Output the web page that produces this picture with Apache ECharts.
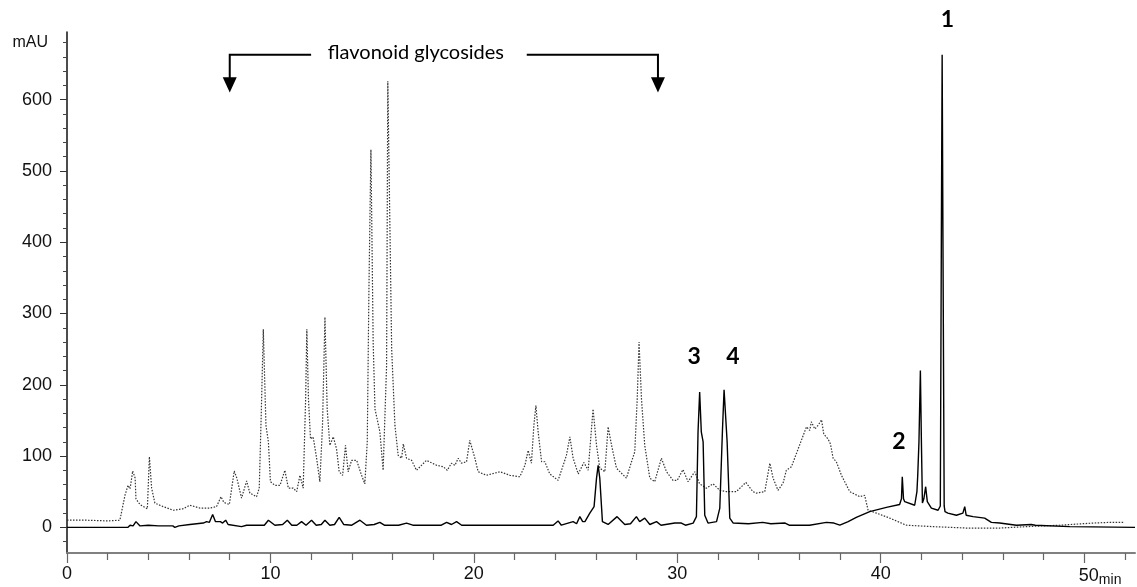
<!DOCTYPE html>
<html>
<head>
<meta charset="utf-8">
<title>chromatogram</title>
<script src="https://cdn.jsdelivr.net/npm/echarts/dist/echarts.min.js"></script>
<style>
  html, body { margin: 0; padding: 0; background: #fff; }
  #main { width: 1137px; height: 587px; }
</style>
</head>
<body>
<div id="main"></div>
<script>
// dotted trace (flavonoid glycosides), [min, mAU]
var dottedTrace = [[0,10],[1,10],[2,9],[2.6,10],[2.85,45],[3.0,59],[3.1,54],[3.23,79],[3.35,69],[3.39,40],[3.59,32],[3.95,26],[4.05,99],[4.16,55],[4.32,34],[4.73,29],[5.22,24],[5.7,26],[6.04,31],[6.54,27],[7.0,27],[7.35,29],[7.57,43],[7.71,35],[7.98,32],[8.22,79],[8.35,69],[8.58,41],[8.83,65],[8.99,48],[9.32,43],[9.45,55],[9.55,160],[9.65,278],[9.78,143],[9.9,120],[10.0,64],[10.22,59],[10.47,59],[10.71,80],[10.88,55],[11.12,55],[11.29,50],[11.45,73],[11.61,55],[11.73,180],[11.79,278],[11.87,180],[11.97,124],[12.1,127],[12.27,97],[12.43,64],[12.56,143],[12.68,295],[12.79,166],[12.92,115],[13.09,127],[13.25,110],[13.38,78],[13.55,73],[13.69,115],[13.82,78],[13.99,94],[14.24,94],[14.48,73],[14.64,61],[14.76,120],[14.84,330],[14.94,530],[15.05,260],[15.14,166],[15.38,134],[15.54,80],[15.71,227],[15.77,626],[15.96,250],[16.12,143],[16.28,101],[16.45,97],[16.53,117],[16.69,97],[16.94,94],[17.18,80],[17.67,94],[18.17,87],[18.5,85],[18.69,80],[18.9,90],[19.07,87],[19.23,97],[19.39,90],[19.64,92],[19.8,122],[20.05,97],[20.21,78],[20.62,73],[21.28,78],[21.77,73],[22.26,71],[22.51,87],[22.67,108],[22.83,90],[22.95,143],[23.05,171],[23.16,134],[23.33,92],[23.49,92],[23.73,75],[24.14,66],[24.39,87],[24.55,101],[24.72,127],[24.88,97],[25.13,75],[25.41,91],[25.62,80],[25.86,166],[26.03,115],[26.19,83],[26.44,78],[26.6,141],[26.77,115],[27.01,83],[27.5,69],[27.75,92],[27.91,106],[28.03,180],[28.12,260],[28.24,180],[28.4,115],[28.65,69],[28.89,64],[29.22,97],[29.47,78],[29.79,66],[30.0,66],[30.28,81],[30.53,64],[30.86,78],[31.1,61],[31.43,55],[31.76,61],[32.09,52],[32.42,50],[32.9,50],[33.37,63],[33.72,50],[33.89,48],[34.3,50],[34.55,90],[34.71,69],[34.95,52],[35.2,62],[35.36,80],[35.61,85],[36.02,116],[36.35,141],[36.51,136],[36.59,148],[36.76,138],[36.92,143],[37.09,151],[37.2,131],[37.41,124],[37.53,117],[37.66,97],[37.82,92],[38.07,73],[38.48,50],[38.97,43],[39.21,45],[39.38,24],[39.79,20],[40.44,13],[41.26,3],[42.57,1],[44.21,-1],[45.85,-1],[47.16,1],[48.8,3],[50.43,6],[51.25,7],[51.99,7]];

// solid trace, [min, mAU]
var solidTrace = [[0,0],[3.0,0],[3.1,3],[3.25,2],[3.39,8],[3.59,2],[4.0,3],[4.5,2],[5.2,2],[5.3,0],[5.5,2],[6.04,4],[6.7,6],[6.86,8],[7.0,7],[7.16,18],[7.3,8],[7.54,8],[7.65,6],[7.8,10],[7.92,4],[8.58,1],[8.83,3],[9.48,3],[9.7,3],[9.9,10],[10.22,3],[10.6,4],[10.83,10],[11.05,3],[11.3,3],[11.53,8],[11.75,3],[12.02,10],[12.25,3],[12.5,4],[12.68,10],[12.92,3],[13.15,4],[13.38,14],[13.6,4],[14.0,3],[14.4,10],[14.72,3],[15.1,4],[15.38,7],[15.6,3],[16.3,3],[16.69,6],[17.0,3],[18.4,3],[18.66,7],[18.9,4],[19.15,8],[19.4,3],[20.5,3],[21.5,3],[22.5,3],[23.9,3],[24.14,9],[24.3,3],[24.88,8],[25.05,5],[25.21,15],[25.35,8],[25.46,8],[25.7,20],[25.91,29],[26.03,69],[26.11,87],[26.19,69],[26.32,8],[26.6,4],[27.04,15],[27.42,4],[27.7,5],[27.99,15],[28.15,8],[28.4,13],[28.65,4],[28.98,8],[29.2,3],[29.88,6],[30.2,6],[30.4,3],[30.78,6],[30.94,15],[31.02,134],[31.1,190],[31.18,134],[31.27,120],[31.35,17],[31.51,6],[31.93,8],[32.09,27],[32.22,136],[32.3,193],[32.45,120],[32.58,13],[32.75,6],[33.5,5],[34.2,7],[34.6,5],[35.3,6],[35.5,3],[36.0,3],[36.5,3],[37.33,7],[37.7,6],[37.99,3],[38.4,8],[38.8,14],[39.46,22],[40.28,28],[40.93,32],[41.02,40],[41.06,71],[41.12,40],[41.18,36],[41.67,31],[41.78,50],[41.82,73],[41.88,120],[41.95,220],[42.0,120],[42.05,34],[42.12,40],[42.21,57],[42.29,36],[42.49,27],[42.82,24],[42.93,30],[42.98,400],[43.02,663],[43.06,400],[43.12,30],[43.16,22],[43.3,20],[43.72,17],[44.04,20],[44.13,29],[44.2,17],[44.54,15],[45.11,13],[45.44,7],[45.85,6],[46.67,3],[47.4,4],[47.49,5],[47.6,3],[49.29,1],[52.5,0]];

var xTicks = [0, 10, 20, 30, 40, 50];
var xMinorTicks = [2, 4, 6, 8, 12, 14, 16, 18, 22, 24, 26, 28, 32, 34, 36, 38, 42, 44, 46, 48, 52];
var yTicks = [0, 100, 200, 300, 400, 500, 600];
var yMinorTicks = [-20, 20, 40, 60, 80, 120, 140, 160, 180, 220, 240, 260, 280, 320, 340, 360, 380,
    420, 440, 460, 480, 520, 540, 560, 580, 620, 640, 660, 680];

// peak numbers: [label, min, mAU]
var peakLabels = [['1', 43.28, 713], ['2', 40.9, 120], ['3', 30.83, 240], ['4', 32.74, 240]];

var chartDom = document.getElementById('main');
var myChart = echarts.init(chartDom);
var option;

var baseFont = 'Arial, "Liberation Sans", sans-serif';

option = {
    animation: false,
    grid: { left: 67, right: 2, top: 32, bottom: 32, containLabel: false },
    xAxis: [{
        type: 'value',
        min: 0,
        max: 52.5,
        axisLine: { show: true, onZero: false, lineStyle: { color: '#808080', width: 2 } },
        axisTick: { show: true, customValues: xTicks, length: 10, lineStyle: { color: '#666', width: 1.2 } },
        axisLabel: {
            customValues: xTicks,
            margin: 12,
            color: '#111',
            fontFamily: baseFont,
            fontSize: 18,
            formatter: function (v) {
                if (v === 50) return '{p|}{a|50}{b|min}';
                return '{a|' + v + '}';
            },
            rich: {
                p: { width: 32 },
                a: { fontFamily: baseFont, fontSize: 18, color: '#111' },
                b: { fontFamily: baseFont, fontSize: 14, color: '#111', padding: [8, 0, 0, 0] }
            }
        },
        splitLine: { show: false }
    }, {
        type: 'value',
        min: 0,
        max: 52.5,
        position: 'bottom',
        axisLine: { show: false, onZero: false },
        axisTick: { show: true, customValues: xMinorTicks, length: 7, lineStyle: { color: '#666', width: 1.2 } },
        axisLabel: { show: false },
        splitLine: { show: false }
    }],
    yAxis: [{
        type: 'value',
        min: -36,
        max: 695,
        axisLine: { show: true, onZero: false, lineStyle: { color: '#111', width: 1.5 } },
        axisTick: { show: true, customValues: yTicks, length: 7, lineStyle: { color: '#333' } },
        axisLabel: {
            customValues: yTicks.concat([680]),
            margin: 15,
            color: '#111',
            formatter: function (v) {
                if (v === 680) return '{u|mAU}';
                return '{n|' + v + '}';
            },
            rich: {
                n: { fontFamily: baseFont, fontSize: 18, color: '#111' },
                u: { fontFamily: baseFont, fontSize: 16, color: '#111', padding: [0, 4, 0, 0] }
            }
        },
        splitLine: { show: false }
    }, {
        type: 'value',
        min: -36,
        max: 695,
        position: 'left',
        axisLine: { show: false, onZero: false },
        axisTick: { show: true, customValues: yMinorTicks, length: 4, lineStyle: { color: '#444' } },
        axisLabel: { show: false },
        splitLine: { show: false }
    }],
    series: [{
        name: 'glycosides',
        type: 'line',
        data: dottedTrace,
        showSymbol: false,
        symbol: 'none',
        lineStyle: { color: '#333', width: 1.2, type: [1.5, 1.5] },
        z: 2
    }, {
        name: 'main',
        type: 'line',
        data: solidTrace,
        showSymbol: false,
        symbol: 'none',
        lineStyle: { color: '#000', width: 1.4 },
        z: 3
    }]
};

option && myChart.setOption(option);

// 注释：峰号和箭头
function px(t, v) {
    return myChart.convertToPixel({ seriesIndex: 0 }, [t, v]);
}

var graphics = [];
var annoFont = 'Lato, "Open Sans", sans-serif';

peakLabels.forEach(function (p) {
    var pt = px(p[1], p[2]);
    graphics.push({
        type: 'text',
        x: pt[0], y: pt[1],
        style: {
            text: p[0], fill: '#000', font: 'bold 23px ' + annoFont,
            textAlign: 'center', textVerticalAlign: 'middle'
        }
    });
});

var yTop = px(0, 663)[1];
var yStem = px(0, 630)[1];
var yTip = px(0, 610)[1];
var xL = px(8.0, 0)[0], xL2 = px(12.0, 0)[0];
var xR = px(29.05, 0)[0], xR1 = px(22.6, 0)[0];
var lineStyle = { stroke: '#000', lineWidth: 2 };

graphics.push({ type: 'polyline', shape: { points: [[xL2, yTop], [xL, yTop], [xL, yStem]] }, style: lineStyle });
graphics.push({ type: 'polyline', shape: { points: [[xR1, yTop], [xR, yTop], [xR, yStem]] }, style: lineStyle });
graphics.push({ type: 'polygon', shape: { points: [[xL - 7, yStem - 1], [xL + 7, yStem - 1], [xL, yTip]] }, style: { fill: '#000' } });
graphics.push({ type: 'polygon', shape: { points: [[xR - 7, yStem - 1], [xR + 7, yStem - 1], [xR, yTip]] }, style: { fill: '#000' } });

var tc = px(17.15, 666);
graphics.push({
    type: 'text',
    x: tc[0], y: tc[1],
    style: {
        text: 'flavonoid glycosides', fill: '#000', font: '20px ' + annoFont,
        textAlign: 'center', textVerticalAlign: 'middle'
    }
});

myChart.setOption({ graphic: graphics });
</script>
</body>
</html>
